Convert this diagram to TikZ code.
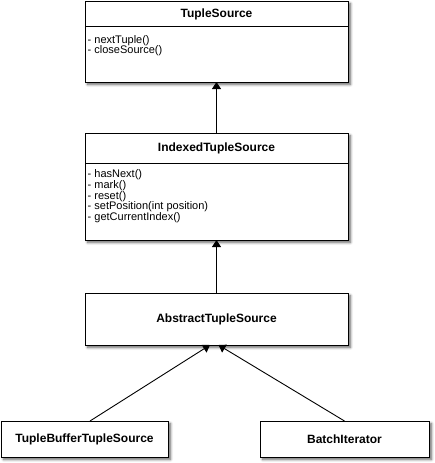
\documentclass[tikz,border=0pt]{standalone}
\usepackage{fontspec}
\setmainfont{Liberation Sans}
\usetikzlibrary{arrows.meta,shadows.blur}
\begin{document}
\begin{tikzpicture}[x=1pt,y=-1pt,
  box/.style={draw=black, line width=0.9pt, fill=white, rectangle, inner sep=0pt, outer sep=0pt,
    blur shadow={shadow xshift=2.5pt, shadow yshift=-2.5pt, shadow blur radius=2.5pt, shadow blur steps=6, shadow opacity=60}},
  title/.style={font=\fontsize{12}{13}\selectfont\bfseries, inner sep=0pt},
  methods/.style={font=\fontsize{11}{10.7}\selectfont, align=left, inner sep=0pt, anchor=north west},
  divider/.style={draw=black, line width=0.9pt},
  inh/.style={draw=black, line width=0.9pt, -{Triangle[length=7pt,width=9pt]}}
]
\useasboundingbox (0,0) rectangle (435,463);

% TupleSource
\node[box, minimum width=263pt, minimum height=81pt, anchor=north west] (ts) at (85,1) {};
\node[title] (tst) at (216.5,14) {TupleSource};
\coordinate (d1) at (0,26);
\draw[divider] (ts.west |- d1) -- (ts.east |- d1);
\node[methods] (tsm) at (87.5,35) {- nextTuple()\\- closeSource()};

% IndexedTupleSource
\node[box, minimum width=263pt, minimum height=107pt, anchor=north west] (its) at (85,133) {};
\node[title] (itst) at (216.5,148) {IndexedTupleSource};
\coordinate (d2) at (0,163);
\draw[divider] (its.west |- d2) -- (its.east |- d2);
\node[methods] (itsm) at (87.5,169.5) {- hasNext()\\- mark()\\- reset()\\- setPosition(int position)\\- getCurrentIndex()};

% AbstractTupleSource
\node[box, minimum width=263pt, minimum height=52pt, anchor=north west] (abs) at (85,293) {};
\node[title] (abst) at (216.5,319) {AbstractTupleSource};

% TupleBufferTupleSource
\node[box, minimum width=167pt, minimum height=36pt, anchor=north west] (tb) at (1,421) {};
\node[title] (tbt) at (84.5,439) {TupleBufferTupleSource};

% BatchIterator
\node[box, minimum width=169pt, minimum height=36pt, anchor=north west] (bi) at (260,421) {};
\node[title] (bit) at (344.5,439) {BatchIterator};

% connectors
\draw[inh] (its.north) -- (ts.south);
\draw[inh] (abs.north) -- (its.south);
\draw[inh] ([xshift=5.5pt]tb.north) -- ([xshift=-6.5pt]abs.south);
\draw[inh] (bi.north) -- ([xshift=2pt]abs.south);
\end{tikzpicture}
\end{document}
